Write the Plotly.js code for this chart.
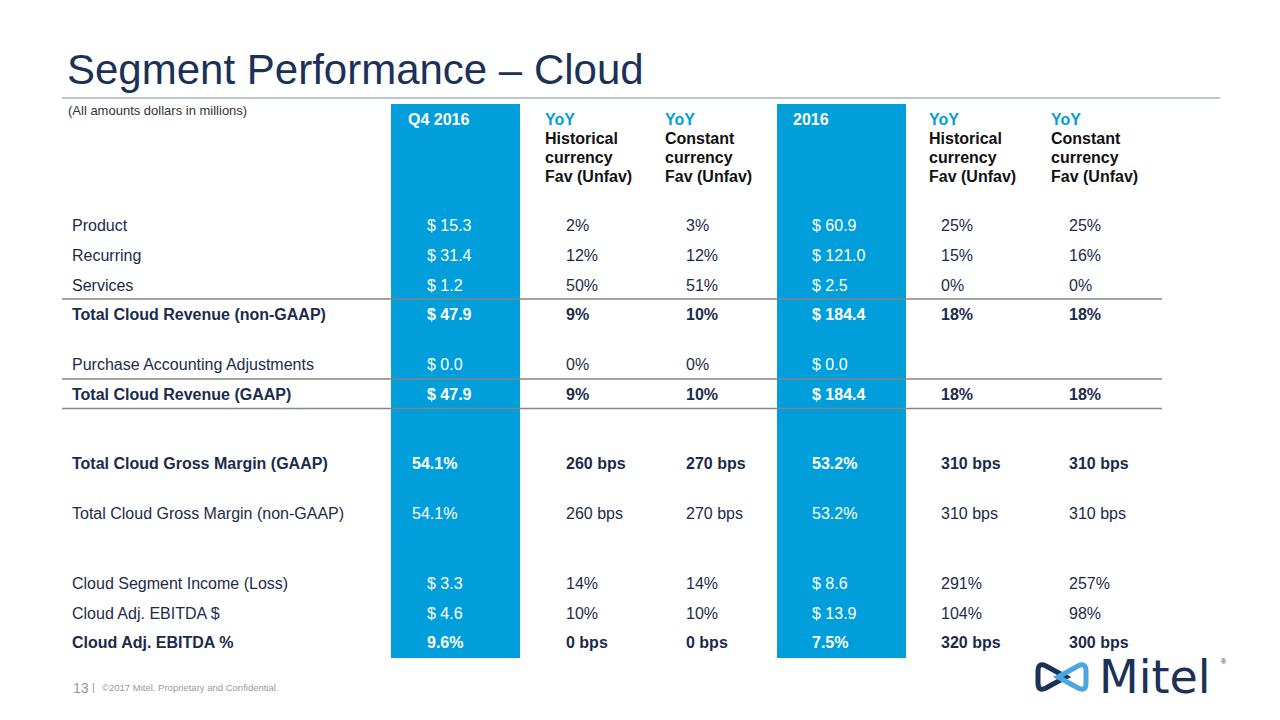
<!DOCTYPE html>
<html>
<head>
<meta charset="utf-8">
<script src="https://cdn.plot.ly/plotly-3.0.1.min.js"></script>
<style>html,body{margin:0;padding:0;background:#fff;}#chart{width:1280px;height:720px;}</style>
</head>
<body>
<div id="chart"></div>
<script>
// ---------- DATA ----------
const rowLabels = [
  'Product', 'Recurring', 'Services', 'Total Cloud Revenue (non-GAAP)',
  'Purchase Accounting Adjustments', 'Total Cloud Revenue (GAAP)',
  'Total Cloud Gross Margin (GAAP)', 'Total Cloud Gross Margin (non-GAAP)',
  'Cloud Segment Income (Loss)', 'Cloud Adj. EBITDA $', 'Cloud Adj. EBITDA %'
];
const boldRows = [false, false, false, true, false, true, true, false, false, false, true];
const q4_2016     = ['$ 15.3', '$ 31.4', '$ 1.2', '$ 47.9', '$ 0.0', '$ 47.9', '54.1%', '54.1%', '$ 3.3', '$ 4.6', '9.6%'];
const yoyHistQ4   = ['2%', '12%', '50%', '9%', '0%', '9%', '260 bps', '260 bps', '14%', '10%', '0 bps'];
const yoyConstQ4  = ['3%', '12%', '51%', '10%', '0%', '10%', '270 bps', '270 bps', '14%', '10%', '0 bps'];
const fy2016      = ['$ 60.9', '$ 121.0', '$ 2.5', '$ 184.4', '$ 0.0', '$ 184.4', '53.2%', '53.2%', '$ 8.6', '$ 13.9', '7.5%'];
const yoyHistFY   = ['25%', '15%', '0%', '18%', '', '18%', '310 bps', '310 bps', '291%', '104%', '320 bps'];
const yoyConstFY  = ['25%', '16%', '0%', '18%', '', '18%', '310 bps', '310 bps', '257%', '98%', '300 bps'];
const columns = [q4_2016, yoyHistQ4, yoyConstQ4, fy2016, yoyHistFY, yoyConstFY];
const columnHeaders = [
  ['Q4 2016'],
  ['YoY', 'Historical', 'currency', 'Fav (Unfav)'],
  ['YoY', 'Constant', 'currency', 'Fav (Unfav)'],
  ['2016'],
  ['YoY', 'Historical', 'currency', 'Fav (Unfav)'],
  ['YoY', 'Constant', 'currency', 'Fav (Unfav)']
];
const highlighted = [true, false, false, true, false, false];

// ---------- LAYOUT GEOMETRY (pixel-space axes) ----------
const rowY = [227, 257, 286.5, 316, 366, 395.5, 465, 515, 585, 615, 644];
const labelX = 72;
const valueX = [427, 566, 686, 812, 941, 1069];
const firstColShift = {6: -15, 7: -15};
const headerX = [408, 545, 665, 793, 929, 1051];
const headerLineY = [120.5, 140, 159, 178];
const blueCols = [[391, 520], [777, 906]];
const blueTop = 104, blueBottom = 658;
const ruleLinesY = [299, 379, 408.5];
const tableLeft = 62, tableRight = 1162;

const FONT = 'Liberation Sans, Arial, Helvetica, sans-serif';
const NAVY = '#1c2b4b';
const BLUE = '#009fdc';

const traces = [];
// Row labels
traces.push({
  type: 'scatter', mode: 'text', x: rowLabels.map(() => labelX), y: rowY,
  text: rowLabels.map((t, i) => boldRows[i] ? '<b>' + t + '</b>' : t),
  textposition: 'middle right', textfont: {family: FONT, size: 16, color: NAVY},
  hoverinfo: 'skip', showlegend: false, cliponaxis: false
});
// Values
columns.forEach((col, c) => {
  traces.push({
    type: 'scatter', mode: 'text',
    x: col.map((v, i) => valueX[c] + (c === 0 && firstColShift[i] ? firstColShift[i] : 0)),
    y: rowY,
    text: col.map((v, i) => boldRows[i] ? '<b>' + v + '</b>' : v),
    textposition: 'middle right',
    textfont: {family: FONT, size: 16, color: highlighted[c] ? '#ffffff' : NAVY},
    hoverinfo: 'skip', showlegend: false, cliponaxis: false
  });
});
// Headers
columnHeaders.forEach((lines, c) => {
  traces.push({
    type: 'scatter', mode: 'text',
    x: lines.map(() => headerX[c]), y: lines.map((l, k) => headerLineY[k]),
    text: lines.map(l => '<b>' + l + '</b>'),
    textposition: 'middle right',
    textfont: {family: FONT, size: 16,
      color: lines.map((l, k) => highlighted[c] ? '#ffffff' : (k === 0 ? BLUE : '#111111'))},
    hoverinfo: 'skip', showlegend: false, cliponaxis: false
  });
});

const shapes = [];
blueCols.forEach(([x0, x1]) => shapes.push({
  type: 'rect', xref: 'x', yref: 'y', x0, x1, y0: blueTop, y1: blueBottom,
  fillcolor: BLUE, line: {width: 0}, layer: 'below'
}));
ruleLinesY.forEach(y => shapes.push({
  type: 'line', xref: 'x', yref: 'y', x0: tableLeft, x1: tableRight, y0: y, y1: y,
  line: {color: '#858585', width: 1.6}, layer: 'above'
}));
// title rule
shapes.push({type: 'line', xref: 'x', yref: 'y', x0: 62, x1: 1220, y0: 98, y1: 98,
  line: {color: '#a9b3bd', width: 1.5}});
// logo symbol
shapes.push({type: 'path', xref: 'x', yref: 'y',
  path: 'M 1066 677 L 1046 666 Q 1038 662 1038 671 L 1038 683 Q 1038 692 1046 688 Z',
  line: {color: '#1b3158', width: 5}, fillcolor: 'rgba(0,0,0,0)'});
shapes.push({type: 'path', xref: 'x', yref: 'y',
  path: 'M 1058 677 L 1078 666 Q 1086 662 1086 671 L 1086 683 Q 1086 692 1078 688 Z',
  line: {color: '#4aa6e0', width: 5}, fillcolor: 'rgba(0,0,0,0)'});

const annotations = [
  {xref: 'paper', yref: 'paper', x: 66 / 1280, y: 1 - 110 / 720, xanchor: 'left', yanchor: 'middle',
   text: '(All amounts dollars in millions)', showarrow: false,
   font: {family: FONT, size: 13, color: '#333333'}},
  {xref: 'paper', yref: 'paper', x: 71 / 1280, y: 1 - 688 / 720, xanchor: 'left', yanchor: 'middle',
   text: '13', showarrow: false, font: {family: FONT, size: 14, color: '#9a9a9a'}},
  {xref: 'paper', yref: 'paper', x: 90 / 1280, y: 1 - 687 / 720, xanchor: 'left', yanchor: 'middle',
   text: '|', showarrow: false, font: {family: FONT, size: 11, color: '#9a9a9a'}},
  {xref: 'paper', yref: 'paper', x: 100 / 1280, y: 1 - 687 / 720, xanchor: 'left', yanchor: 'middle',
   text: '©2017 Mitel. Proprietary and Confidential.', showarrow: false,
   font: {family: FONT, size: 9.5, color: '#9a9a9a'}},
  {xref: 'paper', yref: 'paper', x: 1097 / 1280, y: 1 - 677 / 720, xanchor: 'left', yanchor: 'middle',
   text: 'Mitel', showarrow: false, font: {family: 'DejaVu Sans, Noto Sans, sans-serif', size: 46, color: '#1b3158'}},
  {xref: 'paper', yref: 'paper', x: 1219 / 1280, y: 1 - 661 / 720, xanchor: 'left', yanchor: 'middle',
   text: '®', showarrow: false, font: {family: FONT, size: 7, color: '#1b3158'}}
];

const layout = {
  width: 1280, height: 720,
  margin: {l: 0, r: 0, t: 0, b: 0},
  paper_bgcolor: '#ffffff', plot_bgcolor: '#ffffff',
  title: {text: 'Segment Performance – Cloud', x: 67 / 1280, xanchor: 'left',
    y: 1 - 69 / 720, yanchor: 'middle', font: {family: FONT, size: 42, color: '#1b3158'}},
  xaxis: {range: [0, 1280], visible: false, fixedrange: true},
  yaxis: {range: [720, 0], visible: false, fixedrange: true},
  shapes, annotations, showlegend: false
};

Plotly.newPlot('chart', traces, layout, {displayModeBar: false, staticPlot: true});
</script>
</body>
</html>
